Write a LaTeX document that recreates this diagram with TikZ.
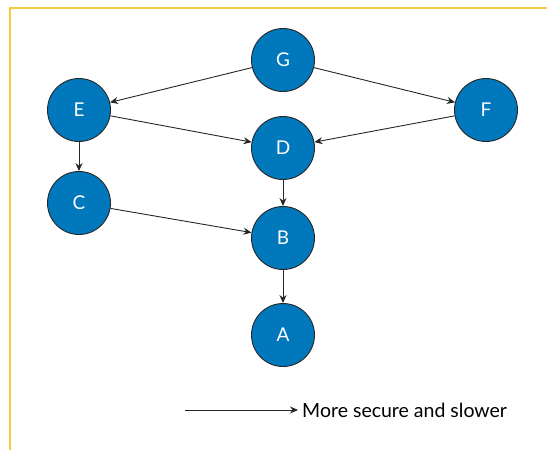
\documentclass[tikz,border=0pt]{standalone}
\usepackage{fontspec}
\setmainfont{Lato}
\usetikzlibrary{arrows.meta}
\definecolor{nodeblue}{RGB}{0,120,187}
\definecolor{frameyellow}{RGB}{250,200,60}

\begin{document}
\begin{tikzpicture}[x=1pt,y=-1pt,
  key/.style={circle,draw=black!85,line width=0.9pt,fill=nodeblue,text=white,minimum size=63pt,inner sep=0pt,font=\fontsize{19}{19}\selectfont},
  link/.style={-{Stealth[length=8pt,width=7pt]},black!85,line width=0.9pt}]
\useasboundingbox (0,0) rectangle (547,450);
\draw [frameyellow,line width=1.4pt] (547,8) -- (10,8) -- (10,450);

\node [key] (g) at (283,60) {G};
\node [key] (e) at (79,110) {E};
\node [key] (f) at (486,110) {F};
\node [key] (d) at (283,148) {D};
\node [key] (c) at (79,203) {C};
\node [key] (b) at (283,238) {B};
\node [key] (a) at (283,335) {A};

\draw [link] (g) -- (e);
\draw [link] (g) -- (f);
\draw [link] (e) -- (d);
\draw [link] (f) -- (d);
\draw [link] (e) -- (c);
\draw [link] (c) -- (b);
\draw [link] (d) -- (b);
\draw [link] (b) -- (a);

% legend
\coordinate (start) at (185,410);
\node [anchor=west,inner sep=0pt,font=\fontsize{19.5}{19.5}\selectfont] (legend) at (302,410) {More secure and slower};
\draw [link] (start) -- ([xshift=-4pt]legend.west);
\end{tikzpicture}
\end{document}
